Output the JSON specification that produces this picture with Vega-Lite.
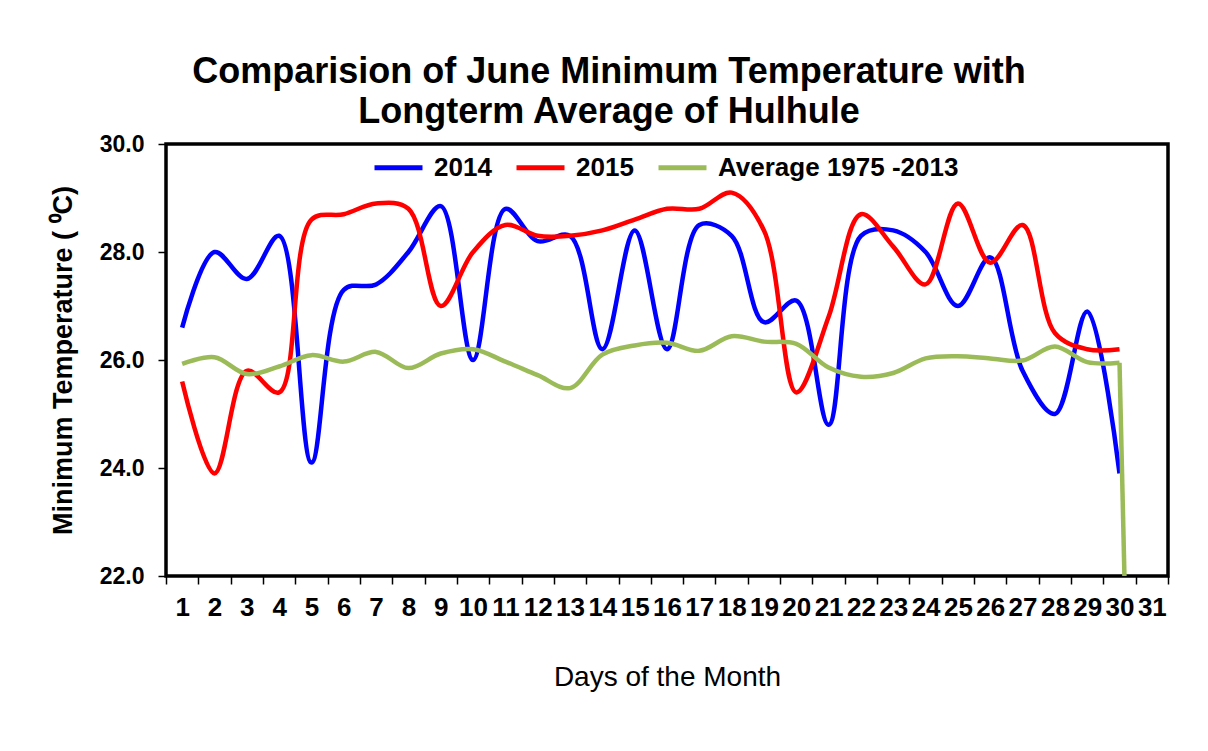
{
  "$schema": "https://vega.github.io/schema/vega-lite/v6.json",
  "width": 1002,
  "height": 432,
  "autosize": {"type": "none"},
  "padding": {"left": 166, "top": 144, "right": 40, "bottom": 175},
  "background": "white",
  "title": {
    "text": ["Comparision of June Minimum Temperature with", "Longterm Average of Hulhule"],
    "font": "Liberation Sans",
    "fontSize": 36,
    "fontWeight": "bold",
    "color": "black",
    "lineHeight": 40,
    "anchor": "middle",
    "frame": "bounds",
    "offset": 2
  },
  "data": {
    "values": [
      {"day": 1, "series": "2014", "temp": 26.6},
      {"day": 2, "series": "2014", "temp": 28.0},
      {"day": 3, "series": "2014", "temp": 27.5},
      {"day": 4, "series": "2014", "temp": 28.3},
      {"day": 5, "series": "2014", "temp": 24.1},
      {"day": 6, "series": "2014", "temp": 27.3},
      {"day": 7, "series": "2014", "temp": 27.4},
      {"day": 8, "series": "2014", "temp": 28.0},
      {"day": 9, "series": "2014", "temp": 28.85},
      {"day": 10, "series": "2014", "temp": 26.0},
      {"day": 11, "series": "2014", "temp": 28.8},
      {"day": 12, "series": "2014", "temp": 28.2},
      {"day": 13, "series": "2014", "temp": 28.3},
      {"day": 14, "series": "2014", "temp": 26.2},
      {"day": 15, "series": "2014", "temp": 28.4},
      {"day": 16, "series": "2014", "temp": 26.2},
      {"day": 17, "series": "2014", "temp": 28.5},
      {"day": 18, "series": "2014", "temp": 28.3},
      {"day": 19, "series": "2014", "temp": 26.7},
      {"day": 20, "series": "2014", "temp": 27.1},
      {"day": 21, "series": "2014", "temp": 24.8},
      {"day": 22, "series": "2014", "temp": 28.3},
      {"day": 23, "series": "2014", "temp": 28.4},
      {"day": 24, "series": "2014", "temp": 28.0},
      {"day": 25, "series": "2014", "temp": 27.0},
      {"day": 26, "series": "2014", "temp": 27.9},
      {"day": 27, "series": "2014", "temp": 25.8},
      {"day": 28, "series": "2014", "temp": 25.0},
      {"day": 29, "series": "2014", "temp": 26.9},
      {"day": 30, "series": "2014", "temp": 23.9},
      {"day": 1, "series": "2015", "temp": 25.6},
      {"day": 2, "series": "2015", "temp": 23.9},
      {"day": 3, "series": "2015", "temp": 25.8},
      {"day": 4, "series": "2015", "temp": 25.4},
      {"day": 5, "series": "2015", "temp": 28.6},
      {"day": 6, "series": "2015", "temp": 28.7},
      {"day": 7, "series": "2015", "temp": 28.9},
      {"day": 8, "series": "2015", "temp": 28.8},
      {"day": 9, "series": "2015", "temp": 27.0},
      {"day": 10, "series": "2015", "temp": 28.0},
      {"day": 11, "series": "2015", "temp": 28.5},
      {"day": 12, "series": "2015", "temp": 28.3},
      {"day": 13, "series": "2015", "temp": 28.3},
      {"day": 14, "series": "2015", "temp": 28.4},
      {"day": 15, "series": "2015", "temp": 28.6},
      {"day": 16, "series": "2015", "temp": 28.8},
      {"day": 17, "series": "2015", "temp": 28.8},
      {"day": 18, "series": "2015", "temp": 29.1},
      {"day": 19, "series": "2015", "temp": 28.4},
      {"day": 20, "series": "2015", "temp": 25.4},
      {"day": 21, "series": "2015", "temp": 26.8},
      {"day": 22, "series": "2015", "temp": 28.7},
      {"day": 23, "series": "2015", "temp": 28.1},
      {"day": 24, "series": "2015", "temp": 27.4},
      {"day": 25, "series": "2015", "temp": 28.9},
      {"day": 26, "series": "2015", "temp": 27.8},
      {"day": 27, "series": "2015", "temp": 28.5},
      {"day": 28, "series": "2015", "temp": 26.5},
      {"day": 29, "series": "2015", "temp": 26.2},
      {"day": 30, "series": "2015", "temp": 26.2},
      {"day": 1, "series": "Average 1975 -2013", "temp": 25.93},
      {"day": 2, "series": "Average 1975 -2013", "temp": 26.05},
      {"day": 3, "series": "Average 1975 -2013", "temp": 25.74},
      {"day": 4, "series": "Average 1975 -2013", "temp": 25.88},
      {"day": 5, "series": "Average 1975 -2013", "temp": 26.09},
      {"day": 6, "series": "Average 1975 -2013", "temp": 25.97},
      {"day": 7, "series": "Average 1975 -2013", "temp": 26.15},
      {"day": 8, "series": "Average 1975 -2013", "temp": 25.85},
      {"day": 9, "series": "Average 1975 -2013", "temp": 26.12},
      {"day": 10, "series": "Average 1975 -2013", "temp": 26.2},
      {"day": 11, "series": "Average 1975 -2013", "temp": 25.97},
      {"day": 12, "series": "Average 1975 -2013", "temp": 25.72},
      {"day": 13, "series": "Average 1975 -2013", "temp": 25.48},
      {"day": 14, "series": "Average 1975 -2013", "temp": 26.1},
      {"day": 15, "series": "Average 1975 -2013", "temp": 26.27},
      {"day": 16, "series": "Average 1975 -2013", "temp": 26.32},
      {"day": 17, "series": "Average 1975 -2013", "temp": 26.17},
      {"day": 18, "series": "Average 1975 -2013", "temp": 26.44},
      {"day": 19, "series": "Average 1975 -2013", "temp": 26.34},
      {"day": 20, "series": "Average 1975 -2013", "temp": 26.3},
      {"day": 21, "series": "Average 1975 -2013", "temp": 25.86},
      {"day": 22, "series": "Average 1975 -2013", "temp": 25.69},
      {"day": 23, "series": "Average 1975 -2013", "temp": 25.76},
      {"day": 24, "series": "Average 1975 -2013", "temp": 26.03},
      {"day": 25, "series": "Average 1975 -2013", "temp": 26.07},
      {"day": 26, "series": "Average 1975 -2013", "temp": 26.03},
      {"day": 27, "series": "Average 1975 -2013", "temp": 25.99},
      {"day": 28, "series": "Average 1975 -2013", "temp": 26.25},
      {"day": 29, "series": "Average 1975 -2013", "temp": 25.96},
      {"day": 30, "series": "Average 1975 -2013", "temp": 25.95},
      {"day": 31, "series": "Average 1975 -2013", "temp": 0}
    ]
  },
  "encoding": {
    "x": {
      "field": "day",
      "type": "ordinal",
      "scale": {"type": "band", "paddingInner": 0, "paddingOuter": 0, "domain": [1,2,3,4,5,6,7,8,9,10,11,12,13,14,15,16,17,18,19,20,21,22,23,24,25,26,27,28,29,30,31]},
      "axis": {
        "title": "Days of the Month",
        "titleFont": "Liberation Sans",
        "titleFontSize": 28,
        "titleFontWeight": "normal",
        "titleColor": "black",
        "titlePadding": 43,
        "labelAngle": 0,
        "labelFont": "Liberation Sans",
        "labelFontSize": 26,
        "labelFontWeight": "bold",
        "labelColor": "black",
        "labelPadding": 10,
        "tickBand": "extent",
        "tickSize": 8,
        "tickColor": "black",
        "tickWidth": 1.5,
        "domain": false,
        "grid": false
      }
    },
    "y": {
      "field": "temp",
      "type": "quantitative",
      "scale": {"domain": [22, 30], "nice": false, "zero": false},
      "axis": {
        "title": "Minimum Temperature ( ⁰C)",
        "titleFont": "Liberation Sans",
        "titleFontSize": 27,
        "titleFontWeight": "bold",
        "titleColor": "black",
        "titlePadding": 22,
        "values": [22, 24, 26, 28, 30],
        "format": ".1f",
        "labelFont": "Liberation Sans",
        "labelFontSize": 23,
        "labelFontWeight": "bold",
        "labelColor": "black",
        "labelPadding": 14,
        "tickSize": 8,
        "tickColor": "black",
        "tickWidth": 1.5,
        "domain": false,
        "grid": false
      }
    },
    "color": {
      "field": "series",
      "type": "nominal",
      "scale": {"domain": ["2014", "2015", "Average 1975 -2013"], "range": ["#0000FF", "#FF0000", "#9BBB59"]},
      "legend": {
        "title": null,
        "orient": "none",
        "legendX": 206,
        "legendY": -3,
        "direction": "horizontal",
        "symbolType": "stroke",
        "symbolSize": 2304,
        "symbolStrokeWidth": 5,
        "labelFont": "Liberation Sans",
        "labelFontSize": 26,
        "labelFontWeight": "bold",
        "labelColor": "black",
        "labelOffset": 9,
        "labelLimit": 400,
        "columnPadding": 14
      }
    }
  },
  "layer": [
    {
      "transform": [{"filter": "datum.day <= 30"}],
      "mark": {"type": "line", "interpolate": "catmull-rom", "strokeWidth": 4.5, "clip": true}
    },
    {
      "transform": [{"filter": "datum.series == 'Average 1975 -2013' && datum.day >= 30"}],
      "mark": {"type": "line", "interpolate": "linear", "strokeWidth": 4.5, "clip": true}
    }
  ],
  "config": {
    "view": {"stroke": "black", "strokeWidth": 3.5}
  }
}
